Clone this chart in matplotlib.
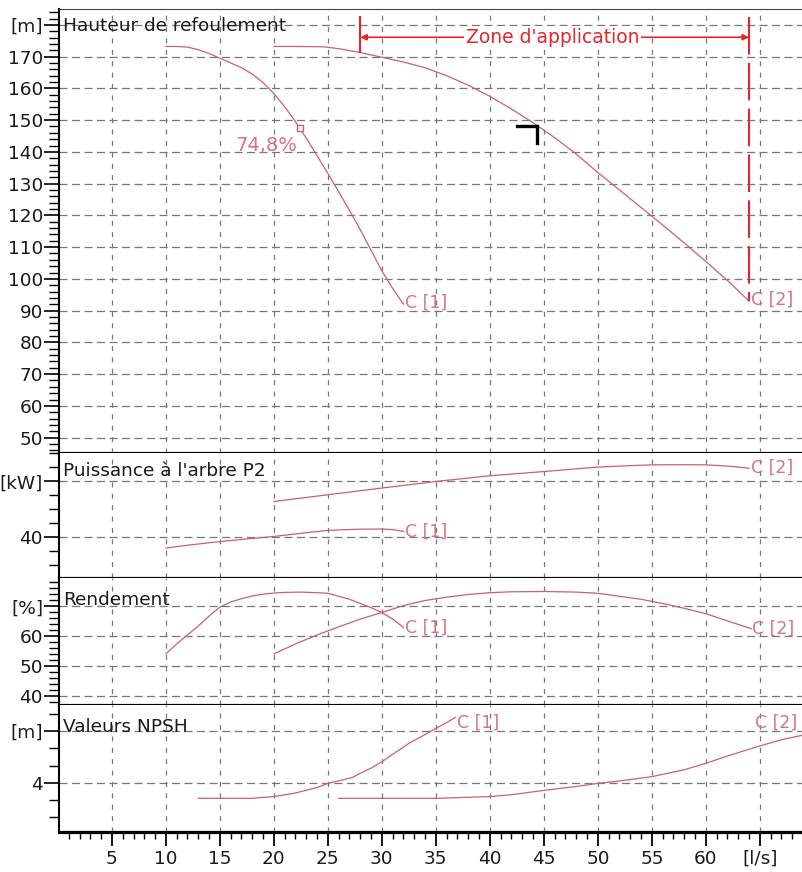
import matplotlib
matplotlib.use("Agg")
import matplotlib.pyplot as plt
import numpy as np
from matplotlib.ticker import FixedLocator, FixedFormatter, MultipleLocator

plt.rcParams['font.family'] = ['DejaVu Sans']
plt.rcParams['lines.scale_dashes'] = False

# ---------------- data ----------------
# Head (Hauteur de refoulement) [m]
q_head1 = [10, 11, 12, 13, 14, 15, 16, 17, 18, 19, 20, 21, 22, 23, 24, 25, 26, 27, 28, 29, 30, 31, 32]
h_head1 = [173.2, 173.2, 173.0, 172.2, 171.0, 169.5, 168.0, 166.5, 164.5, 161.8, 158.4, 154.2,
           149.5, 144.3, 138.8, 133.2, 127.4, 121.6, 115.5, 109.0, 102.5, 97.0, 92.0]
q_head2 = [20, 22, 24.6, 26, 28, 30, 32, 34, 36, 38, 40, 42, 44, 46, 48, 50, 52, 54, 56, 58, 60, 62, 64]
h_head2 = [173.2, 173.2, 173.1, 172.5, 171.3, 169.8, 168.3, 166.5, 164.0, 161.0, 157.5, 153.5,
           149.2, 144.5, 139.3, 133.5, 128.0, 122.5, 117.0, 111.3, 105.5, 99.5, 93.0]

# Shaft power P2 [kW]
q_pow1 = [10, 12, 14, 16, 18, 20, 22, 24, 25, 26, 28, 30, 31, 32]
p_pow1 = [32.4, 34.4, 36.2, 37.8, 39.3, 40.7, 42.5, 44.2, 45.0, 45.4, 45.9, 46.0, 45.6, 44.3]
q_pow2 = [20, 25, 30, 35, 40, 45, 50, 52, 55, 58, 60, 62, 64]
p_pow2 = [65.7, 70.5, 75.3, 80.0, 84.1, 87.1, 90.3, 91.0, 91.9, 92.0, 91.9, 91.0, 89.5]

# Efficiency [%]
q_eff1 = [10, 11, 12, 13, 14, 15, 16, 17, 18, 19, 20, 21, 22.4, 24, 25, 26, 27, 28, 29, 30, 31, 32]
e_eff1 = [54.2, 57.5, 60.5, 63.5, 66.8, 69.8, 71.5, 72.6, 73.5, 74.1, 74.5, 74.7, 74.8, 74.6,
          74.4, 73.4, 72.4, 71.0, 69.6, 68.0, 65.8, 63.0]
q_eff2 = [20, 22, 24, 26, 28, 30, 32, 34, 36, 38, 40, 42, 45, 48, 50, 52, 54, 56, 58, 60, 62, 64.2]
e_eff2 = [54.2, 57.5, 60.5, 63.2, 65.8, 68.0, 70.3, 72.0, 73.1, 74.0, 74.6, 74.9, 75.0, 74.8,
          74.4, 73.4, 72.4, 71.0, 69.4, 67.6, 65.2, 62.6]

# NPSH [m]
q_npsh1 = [13, 18, 20, 22, 24, 25, 26, 27.3, 28, 29, 30, 31, 32.5, 34, 35, 36, 36.8]
n_npsh1 = [3.09, 3.09, 3.19, 3.4, 3.72, 3.96, 4.1, 4.31, 4.55, 4.85, 5.22, 5.65, 6.29, 6.8,
           7.16, 7.5, 7.8]
q_npsh2 = [26, 35, 40, 42, 45, 48, 50, 52, 55, 58, 60, 62, 64.8, 67, 70]
n_npsh2 = [3.09, 3.09, 3.19, 3.3, 3.55, 3.78, 3.96, 4.1, 4.35, 4.75, 5.13, 5.55, 6.1, 6.5, 6.9]

# best efficiency point / operating point / application zone
bep_q, bep_h, bep_label = 22.4, 147.4, "74,8%"
op_q, op_h = 44.4, 148.1
zone_q = [28, 64]
zone_label = "Zone d'application"

x_ticks = [5, 10, 15, 20, 25, 30, 35, 40, 45, 50, 55, 60, 65]
x_labels = ['5', '10', '15', '20', '25', '30', '35', '40', '45', '50', '55', '60', '[l/s]']

head_ticks = [50, 60, 70, 80, 90, 100, 110, 120, 130, 140, 150, 160, 170, 180]
head_labels = ['50', '60', '70', '80', '90', '100', '110', '120', '130', '140', '150', '160', '170', '[m]']
pow_ticks = [40, 80]
pow_labels = ['40', '[kW]']
eff_ticks = [40, 50, 60, 70]
eff_labels = ['40', '50', '60', '[%]']
npsh_ticks = [4, 7]
npsh_labels = ['4', '[m]']

titles = ["Hauteur de refoulement", "Puissance à l'arbre P2", "Rendement", "Valeurs NPSH"]

# ---------------- style ----------------
CURVE = '#cd5f6c'
LABEL = '#d9727d'
RED = '#e3262c'
GRID = '#777777'
TXT = '#1a1a1a'

W, H = 803, 872
fig = plt.figure(figsize=(W / 100, H / 100), dpi=100)

left_px = 59
panels = [(9, 453.5), (453.5, 578), (578, 704.5), (704.5, 832)]
ylims = [(45, 185), (11, 100), (37.3, 79.5), (1.13, 8.55)]
yt = [(head_ticks, head_labels, 2), (pow_ticks, pow_labels, 10),
      (eff_ticks, eff_labels, 2), (npsh_ticks, npsh_labels, 1)]
title_y = [26, 471, 600, 727]
TICK_FS = 13.3

axes = []
for i, (top, bot) in enumerate(panels):
    rect = [left_px / W, 1 - bot / H, (W - left_px) / W, (bot - top) / H]
    ax = fig.add_axes(rect, sharex=axes[0] if axes else None)
    axes.append(ax)
    ax.set_ylim(*ylims[i])
    ticks, labels, minor = yt[i]
    ax.yaxis.set_major_locator(FixedLocator(ticks))
    ax.yaxis.set_major_formatter(FixedFormatter(labels))
    ax.yaxis.set_minor_locator(MultipleLocator(minor))
    ax.tick_params(axis='y', which='major', length=11, width=1.2, pad=0.5,
                   labelsize=TICK_FS, labelcolor=TXT, color='black')
    ax.tick_params(axis='y', which='minor', length=7, width=1.0, color='black')
    ax.grid(axis='y', which='major', color=GRID, lw=0.9, linestyle=(0, (5.8, 3.2)))
    ax.grid(axis='x', which='major', color=GRID, lw=0.9, linestyle=(0, (3.6, 4.6)))
    ax.spines['right'].set_visible(False)
    ax.spines['left'].set_linewidth(1.5)
    ax.spines['bottom'].set_linewidth(2.3)
    if i == 0:
        ax.spines['top'].set_linewidth(0.8)
        ax.spines['top'].set_color('#444444')
    else:
        ax.spines['top'].set_visible(False)
    if i < 3:
        ax.tick_params(axis='x', which='both', length=0, labelbottom=False)
    fig.text(63 / W, 1 - title_y[i] / H, titles[i], fontsize=13.3, color=TXT,
             ha='left', va='center')
    ax.set_axisbelow(True)

axes[0].set_xlim(0.1, 69.0)
bx = axes[3]
bx.xaxis.set_major_locator(FixedLocator(x_ticks))
bx.xaxis.set_major_formatter(FixedFormatter(x_labels))
bx.xaxis.set_minor_locator(MultipleLocator(1))
bx.tick_params(axis='x', which='major', length=10, width=1.3, pad=3, labelsize=TICK_FS,
               labelcolor=TXT, color='black')
bx.tick_params(axis='x', which='minor', length=5, width=1.0, color='black')

lw = 0.9
LBL = 12.5
# Head
ah = axes[0]
ah.plot(q_head1, h_head1, color=CURVE, lw=lw)
ah.plot(q_head2, h_head2, color=CURVE, lw=lw)
ah.plot([bep_q], [bep_h], marker='s', ms=5, mfc='white', mec=CURVE, mew=1)
ah.annotate(bep_label, (bep_q, bep_h), xytext=(-3, -17), textcoords='offset pixels',
            ha='right', va='center', fontsize=14, color=LABEL)
ah.text(q_head1[-1] + 0.1, h_head1[-1] + 0.5, 'C [1]', color=LABEL, fontsize=LBL, ha='left', va='center')
ah.text(q_head2[-1] + 0.2, h_head2[-1] + 0.3, 'C [2]', color=LABEL, fontsize=LBL, ha='left', va='center')

# operating point bracket
ah.plot([op_q - 1.85, op_q, op_q], [op_h, op_h, op_h - 5.4], color='black', lw=2.4,
        solid_joinstyle='miter')

# application zone
zy_top, zy_arrow = 182.6, 176.1
ah.plot([zone_q[0], zone_q[0]], [zy_top, np.interp(zone_q[0], q_head2, h_head2)], color=RED, lw=1.5)
ah.plot([zone_q[1], zone_q[1]], [zy_top, h_head2[-1]], color=RED, lw=1.5,
        linestyle=(0, (27, 6)))
ah.annotate('', xy=(zone_q[0], zy_arrow), xytext=(zone_q[1], zy_arrow),
            arrowprops=dict(arrowstyle='<|-|>', color=RED, lw=1.2, mutation_scale=9,
                            shrinkA=0, shrinkB=0))
ah.text(sum(zone_q) / 2 - 0.2, zy_arrow, zone_label, color=RED, fontsize=13.5, ha='center', va='center',
        bbox=dict(facecolor='white', edgecolor='none', pad=1))

# Power
ap = axes[1]
ap.plot(q_pow1, p_pow1, color=CURVE, lw=lw)
ap.plot(q_pow2, p_pow2, color=CURVE, lw=lw)
ap.text(q_pow1[-1] + 0.1, p_pow1[-1] - 0.5, 'C [1]', color=LABEL, fontsize=LBL, ha='left', va='center')
ap.text(q_pow2[-1] + 0.2, p_pow2[-1], 'C [2]', color=LABEL, fontsize=LBL, ha='left', va='center')

# Efficiency
ae = axes[2]
ae.plot(q_eff1, e_eff1, color=CURVE, lw=lw)
ae.plot(q_eff2, e_eff2, color=CURVE, lw=lw)
ae.text(q_eff1[-1] + 0.1, e_eff1[-1], 'C [1]', color=LABEL, fontsize=LBL, ha='left', va='center')
ae.text(q_eff2[-1] + 0.1, e_eff2[-1], 'C [2]', color=LABEL, fontsize=LBL, ha='left', va='center')

# NPSH
an = axes[3]
an.plot(q_npsh1, n_npsh1, color=CURVE, lw=lw)
an.plot(q_npsh2, n_npsh2, color=CURVE, lw=lw)
an.text(37.0, 7.47, 'C [1]', color=LABEL, fontsize=LBL, ha='left', va='center')
an.text(64.6, 7.47, 'C [2]', color=LABEL, fontsize=LBL, ha='left', va='center')

fig.savefig('out.png', dpi=100)
